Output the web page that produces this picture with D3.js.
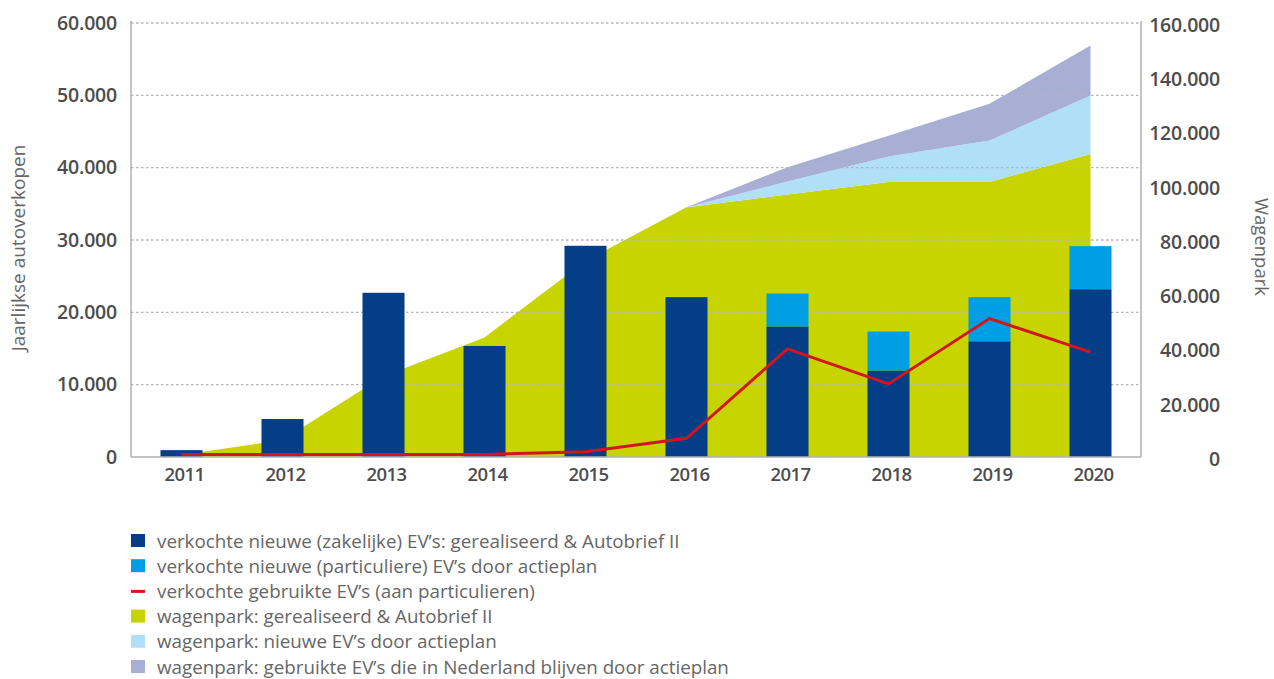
<!DOCTYPE html>
<html>
<head>
<meta charset="utf-8">
<script src="https://cdn.jsdelivr.net/npm/d3@7"></script>
<style>
  body { margin: 0; background: #fff; }
  svg { font-family: "Open Sans", sans-serif; }
</style>
</head>
<body>
<svg id="chart" width="1274" height="679"></svg>
<script>
// data
const years = [2011, 2012, 2013, 2014, 2015, 2016, 2017, 2018, 2019, 2020];
const nieuwZakelijk = [950, 5250, 22700, 15350, 29200, 22100, 18050, 11950, 16000, 23200];
const nieuwParticulier = [0, 0, 0, 0, 0, 0, 4550, 5400, 6100, 5950];
const gebruiktParticulier = [350, 350, 330, 350, 730, 2590, 14940, 10100, 19140, 14490];
const parkGerealiseerd = [850, 6250, 29800, 44100, 72300, 92100, 96750, 101400, 101400, 111750];
const parkNieuwActie = [0, 0, 0, 0, 0, 0, 4800, 9350, 15250, 21500];
const parkGebruiktActie = [0, 0, 0, 0, 0, 0, 5300, 7650, 13550, 18450];
const leftTicks = [0, 10000, 20000, 30000, 40000, 50000, 60000];
const rightTicks = [0, 20000, 40000, 60000, 80000, 100000, 120000, 140000, 160000];
const legendLabels = [
  "verkochte nieuwe (zakelijke) EV’s: gerealiseerd & Autobrief II",
  "verkochte nieuwe (particuliere) EV’s door actieplan",
  "verkochte gebruikte EV’s (aan particulieren)",
  "wagenpark: gerealiseerd & Autobrief II",
  "wagenpark: nieuwe EV’s door actieplan",
  "wagenpark: gebruikte EV’s die in Nederland blijven door actieplan"
];

const cDark = "#033e87", cBlue = "#009fe3", cRed = "#d2161e";
const cGreen = "#c8d400", cLight = "#b0e0f8", cPurple = "#a9aed4";
const legendColors = [cDark, cBlue, cRed, cGreen, cLight, cPurple];

const nl = d3.formatLocale({ decimal: ",", thousands: ".", grouping: [3], currency: ["€", ""] });
const fmt = nl.format(",d");

const svg = d3.select("#chart");
const plotLeft = 131, plotRight = 1141, plotTop = 23, plotBottom = 457;

const x = d3.scaleBand().domain(years).range([plotLeft, plotRight]).paddingInner(0.584).paddingOuter(0.292);
const cx = d => x(d) + x.bandwidth() / 2;
const yL = d3.scaleLinear().domain([0, 60000]).range([plotBottom, plotTop]);
const yR = d3.scaleLinear().domain([0, 160000]).range([plotBottom, plotTop]);

const rows = years.map((y, i) => ({
  year: y,
  zak: nieuwZakelijk[i], part: nieuwParticulier[i], gebr: gebruiktParticulier[i],
  g: parkGerealiseerd[i], n: parkNieuwActie[i], u: parkGebruiktActie[i]
}));

// stacked areas (wagenpark, right axis)
const areaStack = d3.stack().keys(["g", "n", "u"])(rows);
const area = d3.area().x(d => cx(d.data.year)).y0(d => yR(d[0])).y1(d => yR(d[1]));
svg.append("g").selectAll("path").data(areaStack).join("path")
  .attr("fill", (d, i) => [cGreen, cLight, cPurple][i])
  .attr("d", area);

// grid
svg.append("g").selectAll("line").data(leftTicks.filter(t => t > 0)).join("line")
  .attr("x1", plotLeft).attr("x2", plotRight)
  .attr("y1", d => yL(d)).attr("y2", d => yL(d))
  .attr("stroke", "#b5b5b5").attr("stroke-width", 1.3).attr("stroke-dasharray", "2.5,2.5");

// stacked bars (left axis)
const barStack = d3.stack().keys(["zak", "part"])(rows);
svg.append("g").selectAll("g").data(barStack).join("g")
  .attr("fill", (d, i) => [cDark, cBlue][i])
  .selectAll("rect").data(d => d).join("rect")
  .attr("x", d => x(d.data.year))
  .attr("width", x.bandwidth())
  .attr("y", d => yL(d[1]))
  .attr("height", d => yL(d[0]) - yL(d[1]));

// used EVs line
svg.append("path").datum(rows)
  .attr("fill", "none").attr("stroke", cRed).attr("stroke-width", 3)
  .attr("d", d3.line().x(d => cx(d.year)).y(d => yL(d.gebr)));

// axes frame
const frame = svg.append("g").attr("stroke", "#b0b0b0").attr("stroke-width", 1.5);
frame.append("line").attr("x1", plotLeft).attr("x2", plotLeft).attr("y1", plotTop - 2).attr("y2", plotBottom);
frame.append("line").attr("x1", plotRight).attr("x2", plotRight).attr("y1", plotTop - 2).attr("y2", plotBottom);
frame.append("line").attr("x1", plotLeft).attr("x2", plotRight).attr("y1", plotBottom).attr("y2", plotBottom);

// left tick labels
svg.append("g").selectAll("text").data(leftTicks).join("text")
  .attr("x", 117).attr("y", d => yL(d)).attr("dy", "0.35em")
  .attr("text-anchor", "end").attr("font-size", 19.5).attr("font-weight", 600).attr("fill", "#4d4d4d")
  .attr("letter-spacing", -0.2)
  .text(d => fmt(d));

// right tick labels
svg.append("g").selectAll("text").data(rightTicks).join("text")
  .attr("x", 1220).attr("y", d => yR(d) + 2).attr("dy", "0.35em")
  .attr("text-anchor", "end").attr("font-size", 19.5).attr("font-weight", 600).attr("fill", "#4d4d4d")
  .attr("letter-spacing", -0.2)
  .text(d => fmt(d));

// year labels
svg.append("g").selectAll("text").data(years).join("text")
  .attr("x", d => cx(d) + 3).attr("y", 475).attr("dy", "0.35em")
  .attr("text-anchor", "middle").attr("font-size", 18.5).attr("font-weight", 600).attr("fill", "#4d4d4d")
  .attr("letter-spacing", -0.6)
  .text(d => d);

// axis titles
svg.append("text")
  .attr("transform", "translate(25,248) rotate(-90)")
  .attr("text-anchor", "middle").attr("font-size", 19).attr("fill", "#666")
  .text("Jaarlijkse autoverkopen");
svg.append("text")
  .attr("transform", "translate(1255,247) rotate(90)")
  .attr("text-anchor", "middle").attr("font-size", 18.5).attr("fill", "#666")
  .text("Wagenpark");

// legend
const leg = svg.append("g").selectAll("g").data(legendLabels).join("g")
  .attr("transform", (d, i) => `translate(131,${541 + i * 25.2})`);
leg.each(function (d, i) {
  const g = d3.select(this);
  if (i === 2) {
    g.append("rect").attr("x", 0).attr("y", -1.5).attr("width", 14).attr("height", 3).attr("fill", legendColors[i]);
  } else {
    g.append("rect").attr("x", 0).attr("y", -7).attr("width", 14).attr("height", 13).attr("fill", legendColors[i]);
  }
});
leg.append("text")
  .attr("x", 26).attr("y", 0).attr("dy", "0.35em")
  .attr("font-size", 18.8).attr("fill", "#666")
  .text(d => d);
</script>
</body>
</html>
